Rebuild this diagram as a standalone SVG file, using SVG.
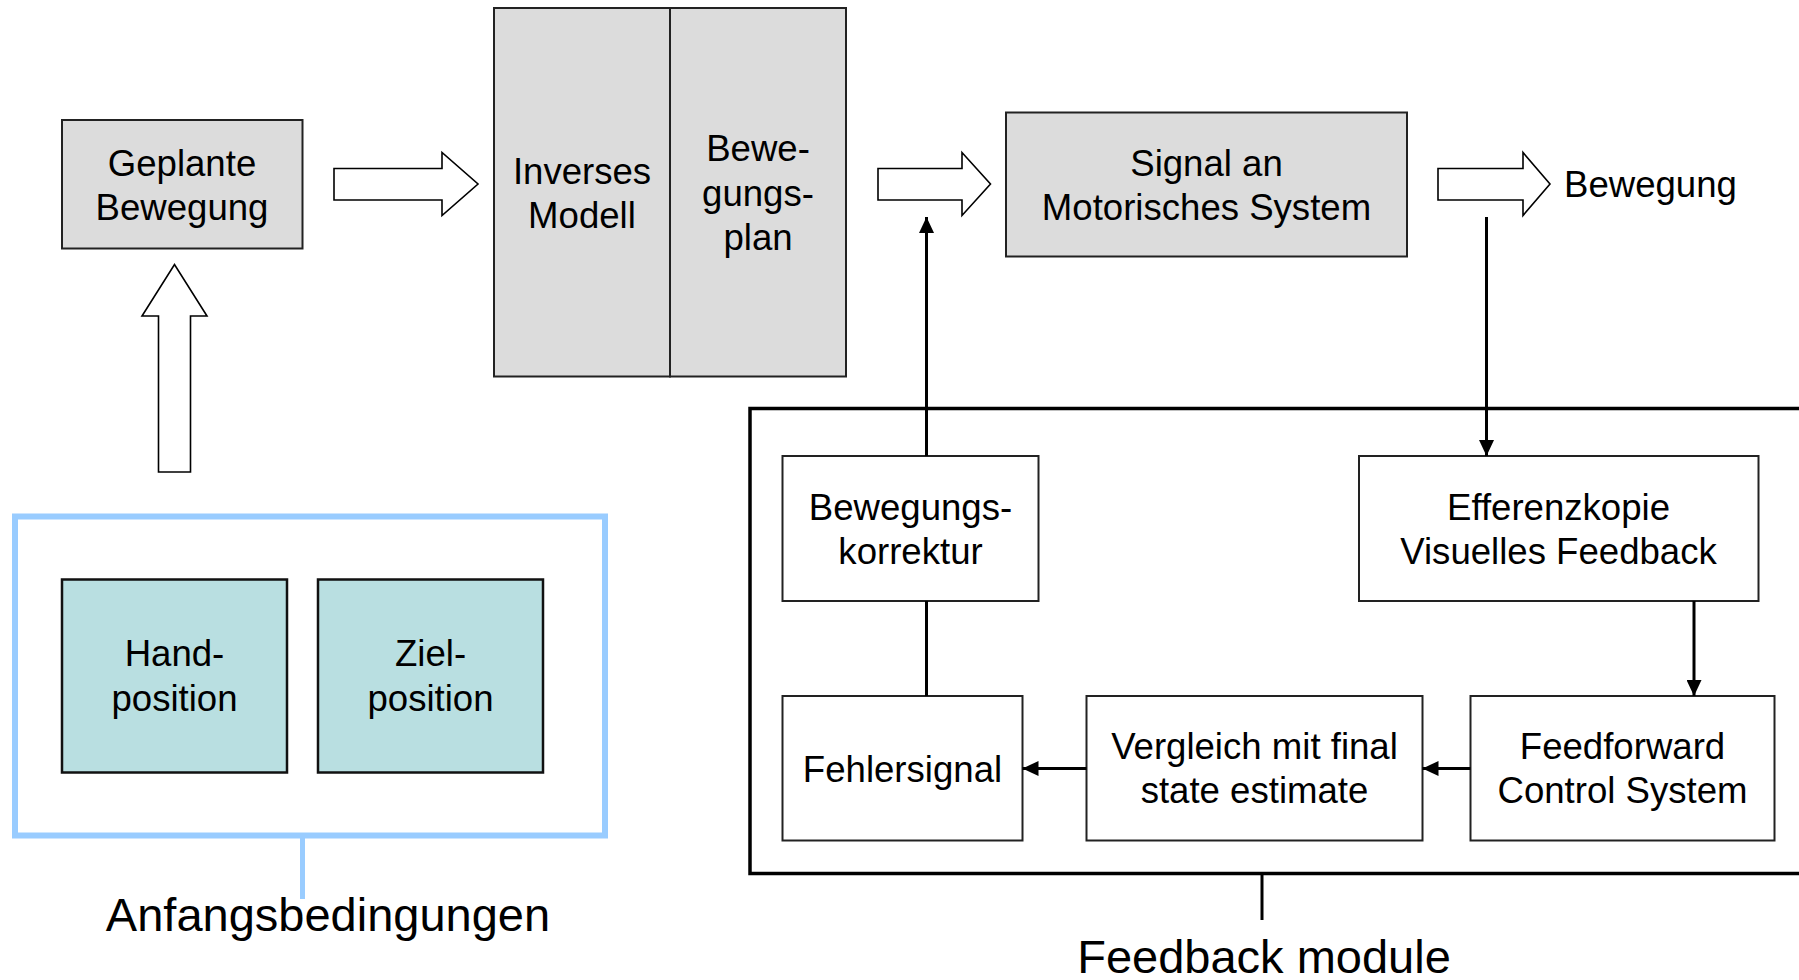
<svg xmlns="http://www.w3.org/2000/svg" width="1799" height="980" viewBox="0 0 1799 980">
  <style>
    text { font-family: "Liberation Sans", Arial, sans-serif; fill: #000; text-anchor: middle; }
    .t { font-size: 36.6px; }
    .big { font-size: 47px; }
    .gray { fill: #dcdcdc; stroke: #222; stroke-width: 2; }
    .plain { fill: #fff; stroke: #222; stroke-width: 2; }
    .teal { fill: #b9dfe1; stroke: #111; stroke-width: 2.5; }
    .block { fill: #fff; stroke: #000; stroke-width: 1.6; stroke-linejoin: miter; }
    .conn { fill: none; stroke: #000; stroke-width: 3; }
  </style>
  <defs>
    <marker id="head" markerUnits="userSpaceOnUse" markerWidth="16" markerHeight="15" refX="16" refY="7.5" orient="auto">
      <path d="M0,0 L16,7.5 L0,15 z" fill="#000"/>
    </marker>
  </defs>

  <rect width="1799" height="980" fill="#fff"/>

  <!-- feedback module frame (runs past the right edge) -->
  <g id="feedback-frame">
    <rect x="750" y="408.5" width="1100" height="465" fill="none" stroke="#000" stroke-width="3.5"/>
    <line x1="1262" y1="873" x2="1262" y2="920" stroke="#000" stroke-width="3"/>
    <text class="big" x="1264" y="973">Feedback module</text>
  </g>

  <!-- initial conditions frame -->
  <g id="anfangsbedingungen">
    <rect x="15" y="516.5" width="590" height="319" fill="none" stroke="#99ccff" stroke-width="6"/>
    <line x1="302.5" y1="838" x2="302.5" y2="899" stroke="#99ccff" stroke-width="5"/>
    <text class="big" x="328" y="931">Anfangsbedingungen</text>
  </g>

  <g id="hand-position">
    <rect class="teal" x="62" y="579.5" width="225" height="193"/>
    <text class="t" x="174.5" y="666">Hand-</text>
    <text class="t" x="174.5" y="711">position</text>
  </g>

  <g id="ziel-position">
    <rect class="teal" x="318" y="579.5" width="225" height="193"/>
    <text class="t" x="430.5" y="666">Ziel-</text>
    <text class="t" x="430.5" y="711">position</text>
  </g>

  <g id="geplante-bewegung">
    <rect class="gray" x="62" y="120" width="240.5" height="128.5"/>
    <text class="t" x="182" y="175.5">Geplante</text>
    <text class="t" x="182" y="220">Bewegung</text>
  </g>

  <g id="inverses-modell">
    <rect class="gray" x="494" y="8" width="176" height="368.5"/>
    <text class="t" x="582" y="184">Inverses</text>
    <text class="t" x="582" y="228">Modell</text>
  </g>

  <g id="bewegungsplan">
    <rect class="gray" x="670" y="8" width="176" height="368.5"/>
    <text class="t" x="758" y="161">Bewe-</text>
    <text class="t" x="758" y="205.5">gungs-</text>
    <text class="t" x="758" y="250">plan</text>
  </g>

  <g id="signal-motorisches-system">
    <rect class="gray" x="1006" y="112.5" width="401" height="144"/>
    <text class="t" x="1206.5" y="175.5">Signal an</text>
    <text class="t" x="1206.5" y="220">Motorisches System</text>
  </g>

  <g id="bewegung">
    <text class="t" x="1564" y="197" style="text-anchor:start">Bewegung</text>
  </g>

  <g id="bewegungskorrektur">
    <rect class="plain" x="782.5" y="456" width="256" height="145"/>
    <text class="t" x="910.5" y="519.5">Bewegungs-</text>
    <text class="t" x="910.5" y="563.5">korrektur</text>
  </g>

  <g id="efferenzkopie">
    <rect class="plain" x="1359" y="456" width="399.5" height="145"/>
    <text class="t" x="1558.5" y="519.5">Efferenzkopie</text>
    <text class="t" x="1558.5" y="563.5">Visuelles Feedback</text>
  </g>

  <g id="fehlersignal">
    <rect class="plain" x="782.5" y="696" width="240" height="144.5"/>
    <text class="t" x="902.5" y="781.5">Fehlersignal</text>
  </g>

  <g id="vergleich">
    <rect class="plain" x="1086.5" y="696" width="336" height="144.5"/>
    <text class="t" x="1254.5" y="759">Vergleich mit final</text>
    <text class="t" x="1254.5" y="803">state estimate</text>
  </g>

  <g id="feedforward">
    <rect class="plain" x="1470.5" y="696" width="304" height="144.5"/>
    <text class="t" x="1622.5" y="759">Feedforward</text>
    <text class="t" x="1622.5" y="803">Control System</text>
  </g>

  <!-- connectors -->
  <g id="connectors">
    <polygon class="block" points="158.5,472 158.5,316 142,316 174.5,264.5 207,316 190.5,316 190.5,472"/>
    <polygon class="block" points="334,168.5 442,168.5 442,152.5 478,184 442,215.5 442,200 334,200"/>
    <polygon class="block" points="878,168.5 962,168.5 962,152.5 990.5,184 962,215.5 962,200 878,200"/>
    <polygon class="block" points="1438,168.5 1523,168.5 1523,152.5 1550,184 1523,215.5 1523,200 1438,200"/>

    <line class="conn" x1="926.5" y1="456" x2="926.5" y2="217" marker-end="url(#head)"/>
    <line class="conn" x1="926.5" y1="601" x2="926.5" y2="696"/>
    <line class="conn" x1="1486.5" y1="217" x2="1486.5" y2="456" marker-end="url(#head)"/>
    <line class="conn" x1="1694" y1="601" x2="1694" y2="696" marker-end="url(#head)"/>
    <line class="conn" x1="1470.5" y1="768.5" x2="1422.5" y2="768.5" stroke-width="3.5" marker-end="url(#head)"/>
    <line class="conn" x1="1086.5" y1="768.5" x2="1022.5" y2="768.5" stroke-width="3.5" marker-end="url(#head)"/>
  </g>
</svg>
